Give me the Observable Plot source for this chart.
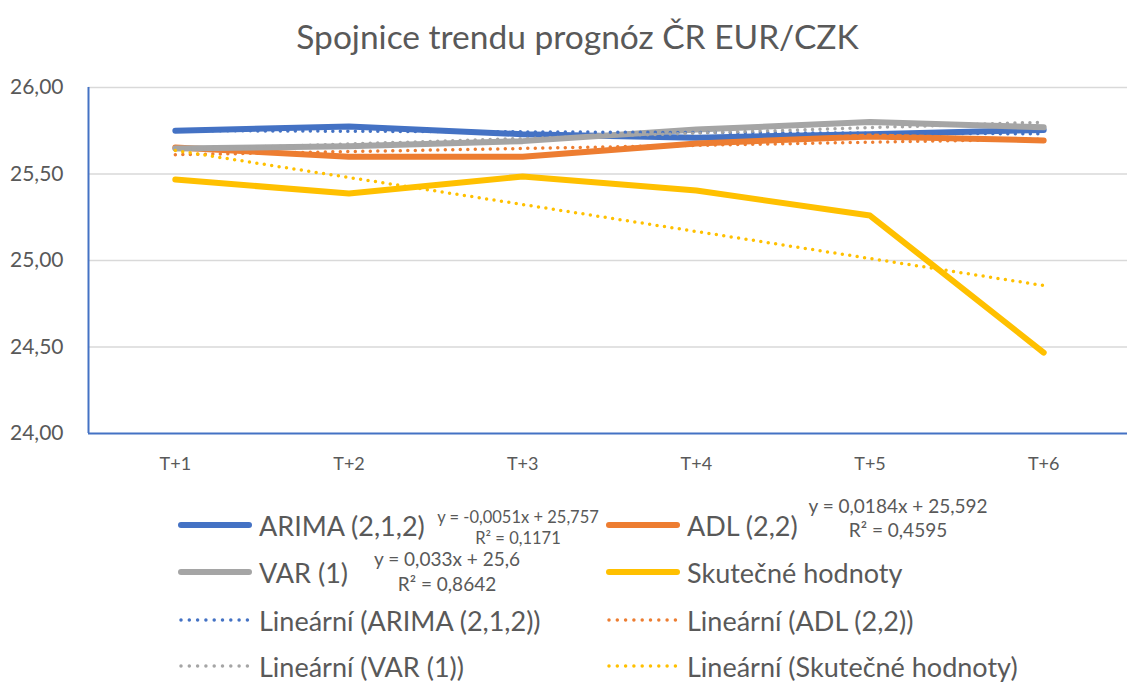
<!DOCTYPE html>
<html><head><meta charset="utf-8">
<script src="https://cdn.jsdelivr.net/npm/d3@7"></script>
<script src="https://cdn.jsdelivr.net/npm/@observablehq/plot@0.6"></script>
<style>
body{margin:0;background:#fff;font-family:Lato,"Open Sans",sans-serif;color:#595959;}
#wrap{position:relative;width:1127px;height:682px;overflow:hidden;}
#title{position:absolute;left:14px;width:1127px;top:16px;text-align:center;font-size:33.5px;line-height:40px;}
#chart{position:absolute;left:0;top:70px;}
.lg{position:absolute;display:flex;align-items:center;font-size:27px;white-space:nowrap;}
.lg svg{margin-right:6px;}
.eq{position:absolute;text-align:center;white-space:nowrap;transform:translate(-50%,-50%);}
</style></head>
<body><div id="wrap"><div id="title">Spojnice trendu prognóz ČR EUR/CZK</div><div id="chart"></div></div>
<script>
const periods = [1, 2, 3, 4, 5, 6];
const periodLabels = ["T+1", "T+2", "T+3", "T+4", "T+5", "T+6"];
const seriesNames = ["ARIMA (2,1,2)", "ADL (2,2)", "VAR (1)", "Skutečné hodnoty"];
const seriesColors = ["#4472C4", "#ED7D31", "#A5A5A5", "#FFC000"];
const arima = [25.75, 25.775, 25.73, 25.71, 25.73, 25.755];
const adl = [25.653, 25.60, 25.60, 25.676, 25.717, 25.694];
const varr = [25.647, 25.66, 25.69, 25.757, 25.80, 25.77];
const actual = [25.468, 25.387, 25.486, 25.405, 25.26, 24.468];
const yTicks = [24, 24.5, 25, 25.5, 26];
const equations = [
  {series: "ARIMA (2,1,2)", eq: "y = -0,0051x + 25,757", r2: "R² = 0,1171"},
  {series: "ADL (2,2)", eq: "y = 0,0184x + 25,592", r2: "R² = 0,4595"},
  {series: "VAR (1)", eq: "y = 0,033x + 25,6", r2: "R² = 0,8642"}
];

const values = [arima, adl, varr, actual];
const data = [];
seriesNames.forEach((s, i) => periods.forEach((p, j) => data.push({x: p, y: values[i][j], s})));

const colorScale = {domain: seriesNames, range: seriesColors};
const fmt = d => d3.format(".2f")(d).replace(".", ",");

const chart = Plot.plot({
  width: 1127, height: 410,
  marginTop: 17, marginBottom: 47, marginLeft: 88, marginRight: 0,
  style: {fontFamily: "Lato, 'Open Sans', sans-serif", color: "#595959", background: "transparent"},
  x: {domain: [0.5, 6.5], range: [88, 1130], ticks: periods, tickFormat: d => periodLabels[d - 1], label: null, tickSize: 0, tickPadding: 24},
  y: {domain: [24, 26], ticks: yTicks, tickFormat: fmt, label: null, tickSize: 0, tickPadding: 25},
  color: colorScale,
  marks: [
    Plot.ruleY(yTicks.slice(1), {stroke: "#d9d9d9", strokeWidth: 1.5}),
    Plot.ruleY([24], {stroke: "#4472C4", strokeWidth: 2}),
    Plot.ruleX([0.5], {stroke: "#4472C4", strokeWidth: 2}),
    Plot.axisX({ticks: periods, tickFormat: d => periodLabels[d - 1], tickSize: 0, tickPadding: 24, fontSize: 18, label: null}),
    Plot.axisY({ticks: yTicks, tickFormat: fmt, tickSize: 0, tickPadding: 25, fontSize: 21, label: null}),
    Plot.lineY(data, {x: "x", y: "y", z: "s", stroke: "s", strokeWidth: 6, strokeLinecap: "round", strokeLinejoin: "round"}),
    Plot.linearRegressionY(data, {x: "x", y: "y", z: "s", stroke: "s", ci: 0, strokeWidth: 3.5, strokeDasharray: "0 7.5", strokeLinecap: "round"})
  ]
});
document.getElementById("chart").appendChild(chart);

// legend
const wrap = document.getElementById("wrap");
function swatch(color, dotted) {
  const ns = "http://www.w3.org/2000/svg";
  const svg = document.createElementNS(ns, "svg");
  svg.setAttribute("width", 76); svg.setAttribute("height", 10);
  const l = document.createElementNS(ns, "line");
  l.setAttribute("x1", 4); l.setAttribute("x2", 72); l.setAttribute("y1", 5); l.setAttribute("y2", 5);
  l.setAttribute("stroke", color); l.setAttribute("stroke-linecap", "round");
  l.setAttribute("stroke-width", dotted ? 3.5 : 6);
  if (dotted) l.setAttribute("stroke-dasharray", "0 8.3");
  svg.appendChild(l);
  return svg;
}
const legendItems = [
  {name: seriesNames[0], c: seriesColors[0], d: false, col: 0, row: 0},
  {name: seriesNames[1], c: seriesColors[1], d: false, col: 1, row: 0},
  {name: seriesNames[2], c: seriesColors[2], d: false, col: 0, row: 1},
  {name: seriesNames[3], c: seriesColors[3], d: false, col: 1, row: 1},
  {name: "Lineární (" + seriesNames[0] + ")", c: seriesColors[0], d: true, col: 0, row: 2},
  {name: "Lineární (" + seriesNames[1] + ")", c: seriesColors[1], d: true, col: 1, row: 2},
  {name: "Lineární (" + seriesNames[2] + ")", c: seriesColors[2], d: true, col: 0, row: 3},
  {name: "Lineární (" + seriesNames[3] + ")", c: seriesColors[3], d: true, col: 1, row: 3}
];
const colX = [177, 605];
const rowY = [525, 572, 620, 666];
legendItems.forEach(it => {
  const div = document.createElement("div");
  div.className = "lg";
  div.style.left = colX[it.col] + "px";
  div.style.top = (rowY[it.row] - 18) + "px";
  div.style.height = "36px";
  div.appendChild(swatch(it.c, it.d));
  const span = document.createElement("span");
  span.textContent = it.name;
  div.appendChild(span);
  wrap.appendChild(div);
});
// layout of equation labels: [centerX, eqY, r2Y, fontSize]
const eqPos = [[518, 517, 538, 16.5], [898, 505, 529, 19], [447, 558, 583, 19]];
equations.forEach((e, i) => {
  const [x, y1, y2, fs] = eqPos[i];
  [[e.eq, y1], [e.r2, y2]].forEach(([t, y]) => {
    const d = document.createElement("div");
    d.className = "eq"; d.textContent = t;
    d.style.fontSize = fs + "px";
    d.style.left = x + "px"; d.style.top = y + "px";
    wrap.appendChild(d);
  });
});
</script></body></html>
